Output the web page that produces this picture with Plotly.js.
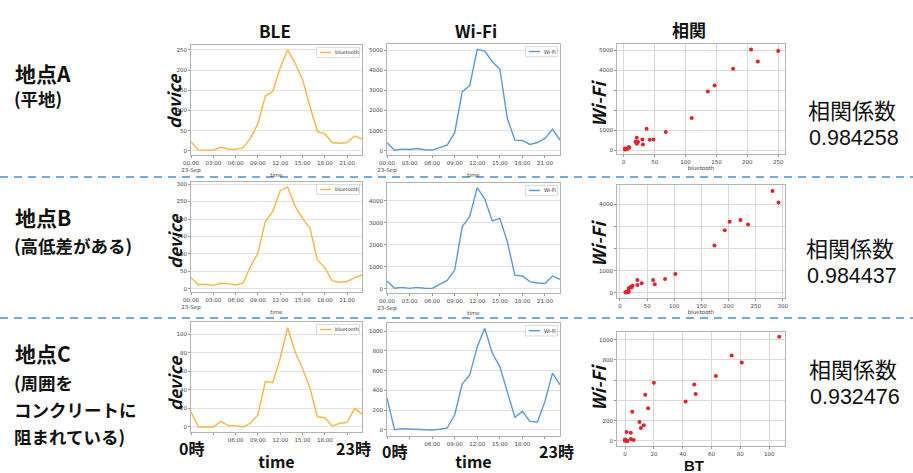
<!DOCTYPE html>
<html><head><meta charset="utf-8">
<script src="https://cdn.plot.ly/plotly-3.0.1.min.js"></script>
<style>html,body{margin:0;padding:0;background:#fff}#chart{width:913px;height:473px}</style>
</head><body><div id="chart"></div>
<script>
// ---------- data ----------
const hours = [0,1,2,3,4,5,6,7,8,9,10,11,12,13,14,15,16,17,18,19,20,21,22,23];
const timeTickVals = [0,3,6,9,12,15,18,21];
const timeTickText = ['00:00<br>23-Sep','03:00','06:00','09:00','12:00','15:00','18:00','21:00'];
// bottom row: first and last tick labels are hidden behind the 0時 / 23時 marks
const timeTickTextC = ['','','06:00','09:00','12:00','15:00','18:00',''];

const bleA  = [23,2,2,2,9,5,4,8,31,68,136,147,206,250,217,177,110,48,42,21,19,21,37,30];
const wifiA = [400,30,80,65,115,50,35,150,280,900,2930,3230,5030,4950,4420,4060,1600,530,510,315,410,610,1060,530];
const bleB  = [32,12,13,10,16,15,11,16,64,102,193,222,281,292,236,202,174,83,61,23,19,21,32,40];
const wifiB = [350,20,60,15,60,20,15,200,380,850,2830,3290,4610,4090,3090,3210,2140,620,580,320,260,240,580,430];
const bleC  = [16,0,0,0,6,1.5,1.5,0,4,13,49,48,74,107,81,63,42,11,10,1,4,5,20,14];
const wifiC = [322,3,13,10,10,0,0,7,20,154,463,557,842,1027,775,641,390,128,188,87,80,289,574,456];

const columnTitles = ['BLE','Wi-Fi','相関'];
const siteNames = ['地点A','地点B','地点C'];
const siteNotes = [['(平地)'],['(高低差がある)'],['(周囲を','コンクリートに','阻まれている)']];
const corrLabel = '相関係数';
const corrValues = ['0.984258','0.984437','0.932476'];

const corrXTicksA = [0,50,100,150,200,250];
const corrYTicksA = [0,1000,2000,3000,4000,5000];
const corrYTextA  = ['0','1000','','','4000','5000'];
const corrXTicksB = [0,50,100,150,200,250,300];
const corrYTicksB = [0,1000,2000,3000,4000];
const corrYTextB  = ['0','1000','','','4000'];
const corrXTicksC = [0,20,40,60,80,100];
const corrYTicksC = [0,200,400,600,800,1000];
const corrYTextC  = ['0','200','','','800','1000'];

// ---------- styling / layout ----------
const W = 913, H = 473;
const px = v => v / W, py = v => 1 - v / H;
const BLE_COLOR = '#f9b642', WIFI_COLOR = '#5b9bd5', DOT_COLOR = '#e8202a';
const JP = 'Noto Sans CJK JP', TF = 'DejaVu Sans', LAT = 'Liberation Sans';
const tickFont = {family: TF, size: 5.5, color: '#444'};

function frame(extra) {
  return Object.assign({showline: true, mirror: true, linecolor: '#b4b4b4', linewidth: 1,
    ticks: 'outside', ticklen: 2, tickcolor: '#999', tickfont: tickFont,
    zeroline: false, fixedrange: true, gridcolor: '#e2e2e2', gridwidth: 1}, extra);
}

const rows = [
  {ble: bleA, wifi: wifiA, bleY: [45,155], wifiY: [44,155], corrY: [44,154],
   bleRange: [-10,262], bleDtick: 50, wifiRange: [-210,5300], wifiDtick: 1000,
   cxRange: [-11,261], cxTicks: corrXTicksA, cyRange: [-200,5300], cyTicks: corrYTicksA, cyText: corrYTextA,
   cxTitle: 'bluetooth', big: false, ticks: timeTickText, devY: 101, wfY: 104},
  {ble: bleB, wifi: wifiB, bleY: [182,292], wifiY: [183,293], corrY: [185,298],
   bleRange: [-9,306], bleDtick: 50, wifiRange: [-196,4820], wifiDtick: 1000,
   cxRange: [-5.5,304], cxTicks: corrXTicksB, cyRange: [-240,4880], cyTicks: corrYTicksB, cyText: corrYTextB,
   cxTitle: 'bluetooth', big: false, ticks: timeTickText, devY: 241, wfY: 244},
  {ble: bleC, wifi: wifiC, bleY: [322,432], wifiY: [323,436], corrY: [332,446],
   bleRange: [-5.4,113], bleDtick: 20, wifiRange: [-61,1081], wifiDtick: 200,
   cxRange: [-5.6,111], cxTicks: corrXTicksC, cyRange: [-50,1075], cyTicks: corrYTicksC, cyText: corrYTextC,
   cxTitle: '', big: true, ticks: timeTickTextC, devY: 383, wfY: 388}
];
const colX = {ble: [191,362], wifi: [387,560], corr: [617,785]};

const traces = [];
const layout = {
  width: W, height: H, margin: {l: 0, r: 0, t: 0, b: 0},
  paper_bgcolor: '#fff', plot_bgcolor: '#fff', showlegend: false,
  font: {family: JP, color: '#111'},
  shapes: [], annotations: []
};

const smallTitle = {family: TF, size: 5.5, color: '#444'};
const bigTitle = {family: JP, size: 16, weight: 'bold', color: '#111'};
const yTitleFont = {family: JP, size: 17, weight: 'bold', style: 'italic', color: '#111'};

rows.forEach((r, i) => {
  const n = i * 3;
  const ax = k => (k === 1 ? '' : String(k));
  const iB = n + 1, iW = n + 2, iC = n + 3;
  traces.push({type: 'scatter', mode: 'lines', x: hours, y: r.ble, name: 'bluetooth',
    xaxis: 'x' + ax(iB), yaxis: 'y' + ax(iB), line: {color: BLE_COLOR, width: 1.4}});
  traces.push({type: 'scatter', mode: 'lines', x: hours, y: r.wifi, name: 'Wi-Fi',
    xaxis: 'x' + ax(iW), yaxis: 'y' + ax(iW), line: {color: WIFI_COLOR, width: 1.4}});
  traces.push({type: 'scatter', mode: 'markers', x: r.ble, y: r.wifi, name: 'corr',
    xaxis: 'x' + ax(iC), yaxis: 'y' + ax(iC), marker: {color: DOT_COLOR, size: 4}});

  const timeAxis = (dom, anchor) => frame({domain: dom, anchor: anchor, range: [0,23],
    tickmode: 'array', tickvals: timeTickVals, ticktext: r.ticks, showgrid: false,
    title: {text: 'time', font: r.big ? bigTitle : smallTitle, standoff: r.big ? 18 : 0}});

  layout['xaxis' + ax(iB)] = timeAxis([px(colX.ble[0]), px(colX.ble[1])], 'y' + ax(iB));
  layout['yaxis' + ax(iB)] = frame({domain: [py(r.bleY[1]), py(r.bleY[0])], anchor: 'x' + ax(iB),
    range: r.bleRange, dtick: r.bleDtick, tick0: 0, showgrid: true});
  layout['xaxis' + ax(iW)] = timeAxis([px(colX.wifi[0]), px(colX.wifi[1])], 'y' + ax(iW));
  layout['yaxis' + ax(iW)] = frame({domain: [py(r.wifiY[1]), py(r.wifiY[0])], anchor: 'x' + ax(iW),
    range: r.wifiRange, dtick: r.wifiDtick, tick0: 0, showgrid: true});
  layout['xaxis' + ax(iC)] = frame({domain: [px(colX.corr[0]), px(colX.corr[1])], anchor: 'y' + ax(iC),
    range: r.cxRange, tickmode: 'array', tickvals: r.cxTicks, showgrid: true, gridcolor: '#d9d9d9',
    title: {text: r.cxTitle, font: smallTitle, standoff: 0}});
  layout['yaxis' + ax(iC)] = frame({domain: [py(r.corrY[1]), py(r.corrY[0])], anchor: 'x' + ax(iC),
    range: r.cyRange, tickmode: 'array', tickvals: r.cyTicks, ticktext: r.cyText, showgrid: true, gridcolor: '#d9d9d9'});

  // y titles placed like the reference (next to the frame)
  layout.annotations.push({xref: 'paper', yref: 'paper', x: px(174), y: py(r.devY), xanchor: 'center', yanchor: 'middle',
    text: 'device', textangle: -90, showarrow: false, font: yTitleFont});
  layout.annotations.push({xref: 'paper', yref: 'paper', x: px(598), y: py(r.wfY), xanchor: 'center', yanchor: 'middle',
    text: 'Wi-Fi', textangle: -90, showarrow: false, font: Object.assign({}, yTitleFont, {size: 18})});

  // mini legends (matplotlib style)
  [[iB, 'bluetooth', BLE_COLOR, 0.735], [iW, 'Wi-Fi', WIFI_COLOR, 0.80]].forEach(([k, txt, col, x0]) => {
    const xr = 'x' + ax(k) + ' domain', yr = 'y' + ax(k) + ' domain';
    layout.shapes.push({type: 'rect', xref: xr, yref: yr, x0: x0, x1: 0.985, y0: 0.885, y1: 0.978,
      line: {color: '#d0d0d0', width: 0.8}, fillcolor: 'rgba(255,255,255,0.9)'});
    layout.shapes.push({type: 'line', xref: xr, yref: yr, x0: x0 + 0.02, x1: x0 + 0.085, y0: 0.932, y1: 0.932,
      line: {color: col, width: 1.4}});
    layout.annotations.push({xref: xr, yref: yr, x: x0 + 0.095, y: 0.932, xanchor: 'left', yanchor: 'middle',
      text: txt, showarrow: false, font: {family: TF, size: 5, color: '#333'}});
  });
});

// "BT" x title of the bottom correlation plot (partly cut by the page edge in the reference)
layout.annotations.push({xref: 'paper', yref: 'paper', x: px(694), y: py(465.5), xanchor: 'center', yanchor: 'middle',
  text: 'BT', showarrow: false, font: {family: LAT, size: 15, weight: 'bold', color: '#111'}});

// row separators
[177, 318].forEach(y => layout.shapes.push({type: 'line', xref: 'paper', yref: 'paper',
  x0: 0, x1: 1, y0: py(y), y1: py(y), line: {color: '#74aadc', width: 2, dash: '8px,6px'}}));

// column titles
[[275, 30], [476, 30], [689, 29]].forEach(([x, y], i) => layout.annotations.push({
  xref: 'paper', yref: 'paper', x: px(x), y: py(y), xanchor: 'center', yanchor: 'middle',
  text: columnTitles[i], showarrow: false, font: {family: JP, size: 17, weight: 'bold', color: '#111'}}));

// site labels
const siteY = [[73, [98]], [217, [245]], [353, [382, 409, 436]]];
siteY.forEach(([y0, ys], i) => {
  layout.annotations.push({xref: 'paper', yref: 'paper', x: px(13), y: py(y0), xanchor: 'left', yanchor: 'middle',
    text: siteNames[i], showarrow: false, font: {family: JP, size: 21, weight: 'bold', color: '#111'}});
  siteNotes[i].forEach((t, j) => layout.annotations.push({xref: 'paper', yref: 'paper', x: px(12), y: py(ys[j]),
    xanchor: 'left', yanchor: 'middle', text: t, showarrow: false,
    font: {family: JP, size: 17.5, weight: 'bold', color: '#111'}}));
});

// correlation coefficients
[[806, 109, 137.5], [804, 247, 275.5], [807, 368, 396.5]].forEach(([x, y1, y2], i) => {
  layout.annotations.push({xref: 'paper', yref: 'paper', x: px(x), y: py(y1), xanchor: 'left', yanchor: 'middle',
    text: corrLabel, showarrow: false, font: {family: JP, size: 22, color: '#111'}});
  layout.annotations.push({xref: 'paper', yref: 'paper', x: px(x + 1), y: py(y2), xanchor: 'left', yanchor: 'middle',
    text: corrValues[i], showarrow: false, font: {family: LAT, size: 21.5, color: '#111'}});
});

// 0時 / 23時 marks under the bottom-row time axes
[[177, 448, '0時'], [334, 448, '23時'], [380, 451, '0時'], [537, 451, '23時']].forEach(([x, y, t]) =>
  layout.annotations.push({xref: 'paper', yref: 'paper', x: px(x), y: py(y), xanchor: 'left', yanchor: 'middle',
    text: t, showarrow: false, font: {family: JP, size: 16, weight: 'bold', color: '#111'}}));

Plotly.newPlot('chart', traces, layout, {staticPlot: true, displayModeBar: false});
</script></body></html>
